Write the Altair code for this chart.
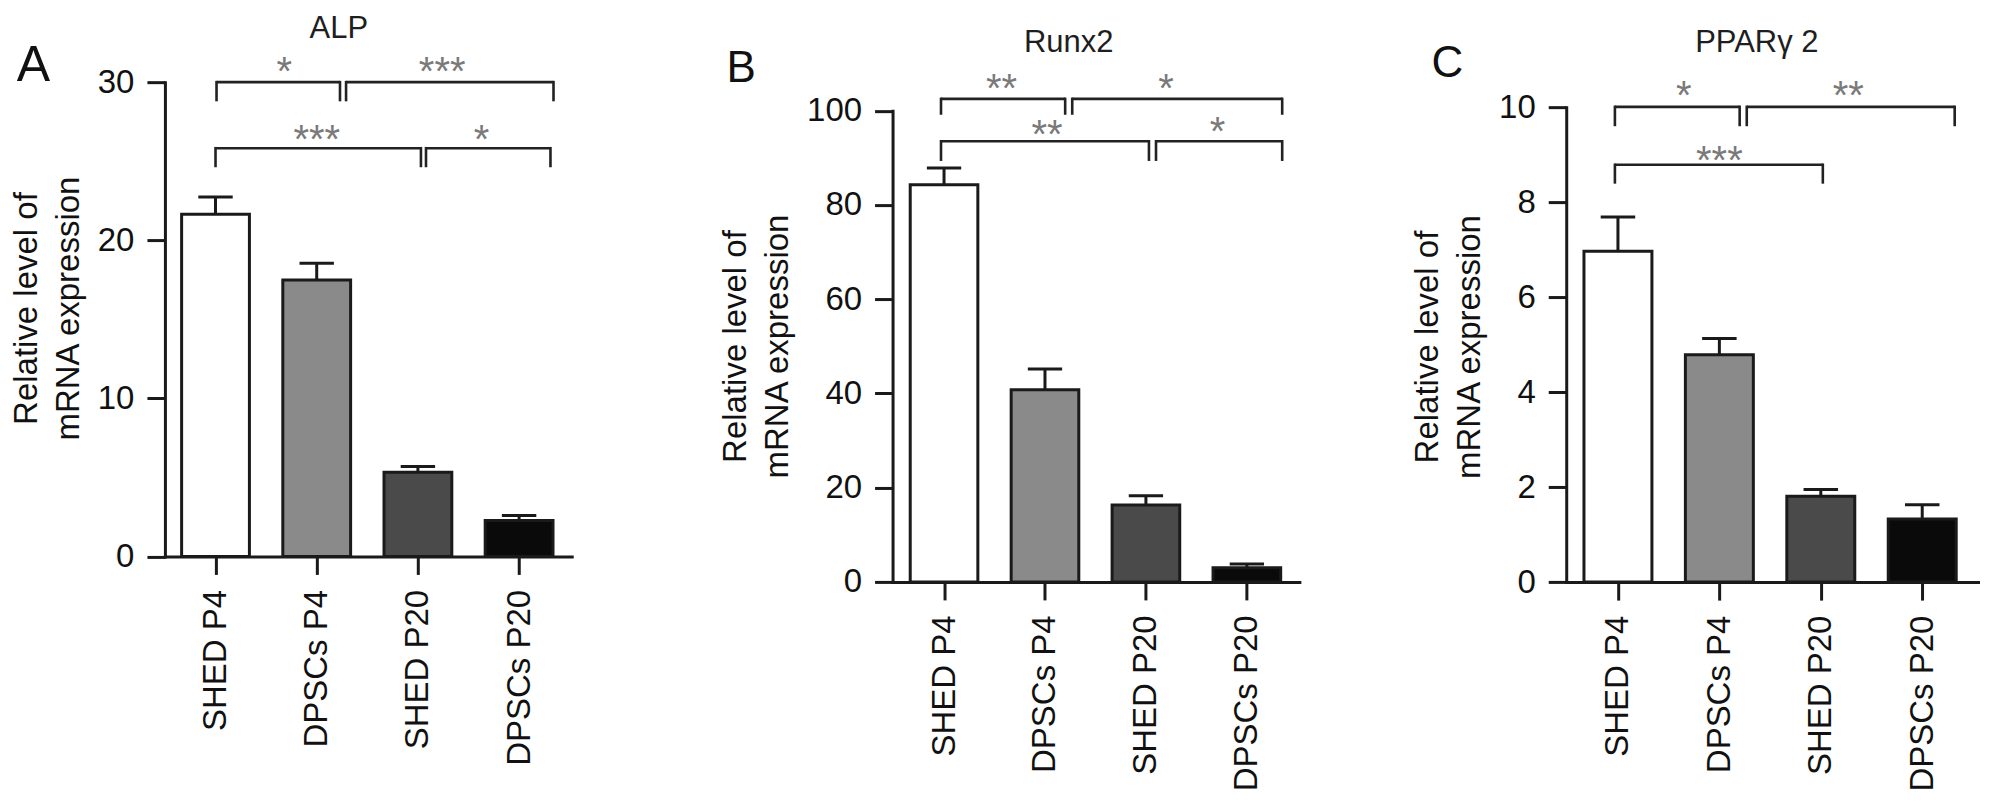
import json
import altair as alt
import pandas as pd

FONT = "Liberation Sans"

# ---------------- data ----------------
categories = ["SHED P4", "DPSCs P4", "SHED P20", "DPSCs P20"]
bar_colors = ["#ffffff", "#8a8a8a", "#4a4a4a", "#0a0a0a"]

alp_mean = [21.65, 17.48, 5.33, 2.27]
alp_sem = [1.09, 1.07, 0.36, 0.32]
runx2_mean = [84.3, 40.8, 16.3, 3.0]
runx2_sem = [3.55, 4.4, 2.0, 0.8]
ppar_mean = [6.97, 4.79, 1.81, 1.33]
ppar_sem = [0.72, 0.34, 0.14, 0.30]

# significance brackets (x in group-index units, y in data units)
alp_br_x1 = [0.01, 1.29, 0.0, 2.08]
alp_br_x2 = [1.23, 3.34, 2.03, 3.31]
alp_br_y = [30.0, 30.0, 25.82, 25.82]
alp_br_tick = [28.87, 28.87, 24.7, 24.7]
alp_star = ["*", "***", "***", "*"]
alp_star_x = [0.68, 2.24, 1.0, 2.63]
alp_star_y = [30.97, 30.97, 26.66, 26.66]

runx2_br_x1 = [-0.03, 1.27, -0.03, 2.10]
runx2_br_x2 = [1.20, 3.35, 2.03, 3.35]
runx2_br_y = [102.5, 102.5, 93.5, 93.5]
runx2_br_tick = [99.4, 99.4, 89.6, 89.6]
runx2_star = ["**", "*", "**", "*"]
runx2_star_x = [0.57, 2.2, 1.02, 2.71]
runx2_star_y = [105.7, 105.7, 95.9, 96.6]

ppar_br_x1 = [-0.03, 1.27, -0.03]
ppar_br_x2 = [1.20, 3.32, 2.02]
ppar_br_y = [10.01, 10.01, 8.79]
ppar_br_tick = [9.63, 9.63, 8.42]
ppar_star = ["*", "**", "***"]
ppar_star_x = [0.65, 2.27, 1.0]
ppar_star_y = [10.34, 10.34, 8.98]

y_title = ["Relative level of", "mRNA expression"]

label_expr = json.dumps(categories) + "[datum.value]"
INK = "#1a1a1a"
STAR_SIZE = 40


def panel(gene, letter, means, sems, bx1, bx2, by, btick, stars, sx, sy,
          ymax, yvals, xdom, width, height, yrange, lay):
    df = pd.DataFrame({
        "cat": categories,
        "idx": list(range(len(categories))),
        "mean": means,
        "sem": sems,
    })
    df["top"] = df["mean"] + df["sem"]
    df["zero"] = 0.0
    df["xl"] = df["idx"] - 0.335
    df["xr"] = df["idx"] + 0.335
    df["cl"] = df["idx"] - 0.17
    df["cr"] = df["idx"] + 0.17

    xscale = alt.Scale(domain=xdom, nice=False, zero=False)
    yscale = alt.Scale(domain=[0, ymax], nice=False, zero=True, range=yrange)

    base = alt.Chart(df)
    bars = base.mark_rect(stroke=INK, strokeWidth=3).encode(
        x=alt.X("xl:Q", scale=xscale,
                axis=alt.Axis(values=[0, 1, 2, 3], labelExpr=label_expr, title=None)),
        x2="xr:Q",
        y=alt.Y("mean:Q", scale=yscale,
                axis=alt.Axis(values=yvals, title=y_title, titleY=lay["titleY"])),
        y2="zero:Q",
        color=alt.Color("cat:N", scale=alt.Scale(domain=categories, range=bar_colors),
                        legend=None),
    )
    err = base.mark_rule(color=INK, strokeWidth=3).encode(
        x="idx:Q", y="mean:Q", y2="top:Q")
    cap = base.mark_rule(color=INK, strokeWidth=3).encode(
        x="cl:Q", x2="cr:Q", y="top:Q")

    bdf = pd.DataFrame({"x1": bx1, "x2": bx2, "y": by, "t": btick})
    bb = alt.Chart(bdf)
    hline = bb.mark_rule(color="#222222", strokeWidth=2.6).encode(
        x="x1:Q", x2="x2:Q", y="y:Q")
    lt = bb.mark_rule(color="#222222", strokeWidth=2.6, strokeCap="square").encode(
        x="x1:Q", y="y:Q", y2="t:Q")
    rt = bb.mark_rule(color="#222222", strokeWidth=2.6, strokeCap="square").encode(
        x="x2:Q", y="y:Q", y2="t:Q")

    sdf = pd.DataFrame({"s": stars, "x": sx, "y": sy})
    star_txt = alt.Chart(sdf).mark_text(
        font=FONT, fontSize=STAR_SIZE, color="#7a7a7a", baseline="alphabetic", dy=18
    ).encode(x="x:Q", y="y:Q", text="s:N")

    tdf = pd.DataFrame({"t": [gene]})
    title_txt = alt.Chart(tdf).mark_text(
        font=FONT, fontSize=31, color="#1e1e1e", baseline="alphabetic", align="center"
    ).encode(x=alt.value(lay["title_x"]), y=alt.value(lay["title_y"]), text="t:N")

    ldf = pd.DataFrame({"t": [letter]})
    letter_txt = alt.Chart(ldf).mark_text(
        font=FONT, fontSize=lay["letter_size"], color="#111111",
        baseline="alphabetic", align="center"
    ).encode(x=alt.value(lay["letter_x"]), y=alt.value(lay["letter_y"]), text="t:N")

    # invisible frame rule fixing the panel's outer extent for the layout
    anchor = alt.Chart(pd.DataFrame({"a": [0]})).mark_rule(opacity=0).encode(
        x=alt.value(lay["left"]), x2=alt.value(lay["right"]), y=alt.value(lay["top"]))

    return alt.layer(bars, err, cap, hline, lt, rt, star_txt, title_txt,
                     letter_txt, anchor).properties(width=width, height=height)


pa = panel("ALP", "A", alp_mean, alp_sem, alp_br_x1, alp_br_x2, alp_br_y, alp_br_tick,
           alp_star, alp_star_x, alp_star_y, 30, [0, 10, 20, 30], [-0.5, 3.52],
           407, 474.5, [474.5, 0],
           dict(title_x=174, title_y=-44.5, letter_x=-131.5, letter_y=-1.5,
                letter_size=50, left=-157, right=535, top=-73.5, titleY=226))
pb = panel("Runx2", "B", runx2_mean, runx2_sem, runx2_br_x1, runx2_br_x2, runx2_br_y,
           runx2_br_tick, runx2_star, runx2_star_x, runx2_star_y, 100,
           [0, 20, 40, 60, 80, 100], [-0.51, 3.52], 407, 500, [500, 28.5],
           dict(title_x=176.3, title_y=-29.8, letter_x=-151.4, letter_y=0.2,
                letter_size=44, left=-192.7, right=487.3, top=-73.5, titleY=264))
pc = panel("PPARγ 2", "C", ppar_mean, ppar_sem, ppar_br_x1, ppar_br_x2, ppar_br_y,
           ppar_br_tick, ppar_star, ppar_star_x, ppar_star_y, 10,
           [0, 2, 4, 6, 8, 10], [-0.51, 3.55], 412, 500.2, [500.2, 25.2],
           dict(title_x=190.7, title_y=-29.8, letter_x=-119, letter_y=-4.8,
                letter_size=44, left=-186, right=434, top=-73.5, titleY=264.5))

chart = (
    alt.hconcat(pa, pb, pc, spacing=0)
    .properties(padding=0, background="white")
    .configure_view(stroke=None)
    .configure_axis(
        grid=False, labelFont=FONT, titleFont=FONT, domainColor=INK, domainWidth=3,
        domainCap="square", tickColor=INK, tickWidth=3, tickSize=18, labelColor="#111111",
        titleColor="#111111", labelFontSize=33, titleFontSize=33,
        titleFontWeight="normal", titleLineHeight=42,
    )
    .configure_axisX(labelFontSize=33, labelPadding=15, labelAngle=-90)
    .configure_axisY(labelPadding=13, titlePadding=12)
)

chart.save("out.html", embed_options={"renderer": "svg", "actions": False})
